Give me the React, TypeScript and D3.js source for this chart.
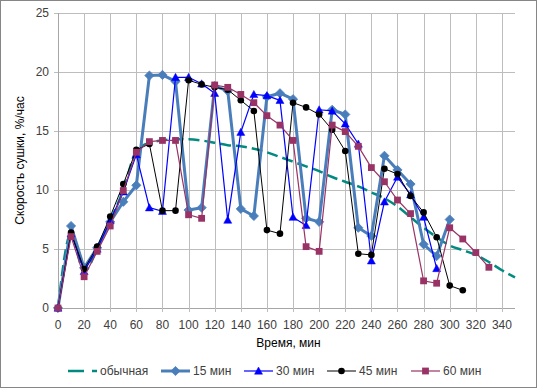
import React from "react";
import * as d3 from "d3";

const W = 537;
const H = 388;

const xTicks = [0, 20, 40, 60, 80, 100, 120, 140, 160, 180, 200, 220, 240, 260, 280, 300, 320, 340];
const yTicks = [0, 5, 10, 15, 20, 25];

const normalX = [0, 10, 20, 30, 40, 50, 60, 70, 80, 90, 100, 110, 120, 130, 140, 150, 160, 170, 180, 190, 200, 210, 220, 230, 240, 250, 260, 270, 280, 290, 300, 310, 320, 330, 340, 350];
const normalY = [0, 6.3, 3.1, 5.0, 7.4, 10.0, 13.3, 14.0, 14.2, 14.3, 14.3, 14.2, 14.0, 13.8, 13.7, 13.5, 13.2, 12.8, 12.4, 12.0, 11.6, 11.1, 10.7, 10.3, 9.8, 9.3, 8.6, 7.7, 6.8, 6.0, 5.3, 4.9, 4.5, 3.9, 3.2, 2.6];

const m15X = [0, 10, 20, 30, 40, 50, 60, 70, 80, 90, 100, 110, 120, 130, 140, 150, 160, 170, 180, 190, 200, 210, 220, 230, 240, 250, 260, 270, 280, 290, 300];
const m15Y = [0, 6.95, 3.4, 5.1, 7.3, 9.0, 10.4, 19.7, 19.75, 19.2, 8.3, 8.5, 18.8, 18.4, 8.4, 7.8, 17.9, 18.2, 17.7, 7.6, 7.3, 16.8, 16.4, 6.8, 6.1, 12.9, 11.7, 10.5, 5.4, 4.4, 7.5];

const m30X = [0, 10, 20, 30, 40, 50, 60, 70, 80, 90, 100, 110, 120, 130, 140, 150, 160, 170, 180, 190, 200, 210, 220, 230, 240, 250, 260, 270, 280, 290];
const m30Y = [0, 6.3, 3.1, 5.0, 7.4, 9.85, 13.0, 8.5, 8.2, 19.55, 19.55, 19.0, 18.2, 7.45, 14.9, 18.1, 18.0, 17.6, 7.7, 7.0, 16.8, 16.7, 15.6, 13.9, 4.0, 9.0, 11.1, 9.6, 7.7, 3.35];

const m45X = [0, 10, 20, 30, 40, 50, 60, 70, 80, 90, 100, 110, 120, 130, 140, 150, 160, 170, 180, 190, 200, 210, 220, 230, 240, 250, 260, 270, 280, 290, 300, 310];
const m45Y = [0, 6.4, 3.3, 5.2, 7.75, 10.5, 13.4, 13.9, 8.25, 8.25, 19.3, 18.95, 18.7, 18.5, 17.6, 16.7, 6.6, 6.3, 17.4, 17.0, 16.4, 15.1, 13.3, 4.6, 4.5, 11.8, 11.35, 9.5, 8.1, 6.0, 1.9, 1.5];

const m60X = [0, 10, 20, 30, 40, 50, 60, 70, 80, 90, 100, 110, 120, 130, 140, 150, 160, 170, 180, 190, 200, 210, 220, 230, 240, 250, 260, 270, 280, 290, 300, 310, 320, 330];
const m60Y = [0, 6.05, 2.65, 4.8, 6.95, 9.95, 13.2, 14.1, 14.2, 14.2, 7.9, 7.6, 18.9, 18.7, 18.1, 17.4, 16.3, 15.5, 14.2, 5.2, 4.8, 15.5, 14.95, 13.7, 11.9, 10.7, 9.15, 8.0, 2.3, 2.1, 6.8, 5.85, 4.7, 3.45];

const seriesNames = ["обычная", "15 мин", "30 мин", "45 мин", "60 мин"];

const FONT = "'Liberation Sans', Arial, sans-serif";

type Pt = [number, number];
const zip = (xs: number[], ys: number[]): Pt[] => xs.map((x, i) => [x, ys[i]]);

function Marker({ kind, x, y, color }: { kind: string; x: number; y: number; color: string }) {
  if (kind === "diamond") {
    const s = 4.6;
    return <path d={`M${x},${y - s}L${x + s},${y}L${x},${y + s}L${x - s},${y}Z`} fill={color} stroke={color} strokeWidth={0.8} />;
  }
  if (kind === "triangle") {
    const s = 4;
    return <path d={`M${x},${y - s}L${x + s},${y + s * 0.8}L${x - s},${y + s * 0.8}Z`} fill={color} stroke={color} strokeWidth={0.5} />;
  }
  if (kind === "circle") {
    return <circle cx={x} cy={y} r={3.3} fill={color} />;
  }
  if (kind === "square") {
    const s = 3.4;
    return <rect x={x - s} y={y - s} width={2 * s} height={2 * s} fill={color} />;
  }
  return null;
}

export default function App() {
  const left = 58, right = 515, top = 13, bottom = 308;
  const x = d3.scaleLinear().domain([0, 350]).range([left, right]);
  const y = d3.scaleLinear().domain([0, 25]).range([bottom, top]);

  const line = d3.line<Pt>().x((d) => x(d[0])).y((d) => y(d[1]));
  const smooth = d3.line<Pt>().x((d) => x(d[0])).y((d) => y(d[1])).curve(d3.curveMonotoneX);

  const series = [
    { name: seriesNames[1], data: zip(m15X, m15Y), color: "#4a7ebb", width: 3, marker: "diamond" },
    { name: seriesNames[2], data: zip(m30X, m30Y), color: "#0000ff", width: 1.2, marker: "triangle" },
    { name: seriesNames[3], data: zip(m45X, m45Y), color: "#000000", width: 1, marker: "circle" },
    { name: seriesNames[4], data: zip(m60X, m60Y), color: "#993366", width: 1.2, marker: "square" },
  ];
  const normal = zip(normalX, normalY);
  const teal = "#008a80";

  const legendItems = [
    { name: seriesNames[0], x0: 68, color: teal, kind: "dash", width: 2.5 },
    { name: seriesNames[1], x0: 161, color: "#4a7ebb", kind: "diamond", width: 3 },
    { name: seriesNames[2], x0: 244, color: "#0000ff", kind: "triangle", width: 1.2 },
    { name: seriesNames[3], x0: 327, color: "#000000", kind: "circle", width: 1 },
    { name: seriesNames[4], x0: 411, color: "#993366", kind: "square", width: 1.2 },
  ];
  const ly = 371;

  return (
    <svg width={W} height={H} style={{ position: "absolute", left: 0, top: 0, background: "#fff" }} fontFamily={FONT}>
      <rect x={0.5} y={0.5} width={W - 1} height={H - 1} fill="#fff" stroke="#868686" />
      {/* gridlines */}
      {yTicks.map((t) => (
        <g key={"y" + t}>
          <line x1={left - 4} x2={right} y1={Math.round(y(t)) + 0.5} y2={Math.round(y(t)) + 0.5} stroke={t === 0 ? "#a6a6a6" : "#bdbdbd"} />
          <text x={left - 9} y={y(t) + 4} textAnchor="end" fontSize={12} fill="#404040">{t}</text>
        </g>
      ))}
      {xTicks.map((t) => (
        <g key={"x" + t}>
          <line x1={Math.round(x(t)) + 0.5} x2={Math.round(x(t)) + 0.5} y1={top} y2={bottom + 4} stroke="#bdbdbd" />
          <text x={x(t)} y={bottom + 21} textAnchor="middle" fontSize={12} fill="#404040">{t}</text>
        </g>
      ))}
      <line x1={left + 0.5} x2={left + 0.5} y1={top} y2={bottom} stroke="#a6a6a6" />

      {/* series */}
      <path d={smooth(normal) || ""} fill="none" stroke={teal} strokeWidth={2.5} strokeDasharray="11,5" />
      {series.map((s) => (
        <g key={s.name}>
          <path d={line(s.data) || ""} fill="none" stroke={s.color} strokeWidth={s.width} strokeLinejoin="round" />
          {s.data.map((d, i) => (
            <Marker key={i} kind={s.marker} x={x(d[0])} y={y(d[1])} color={s.color} />
          ))}
        </g>
      ))}

      {/* axis titles */}
      <text x={(left + right) / 2 + 2} y={347} textAnchor="middle" fontSize={12} fill="#000">Время, мин</text>
      <text transform={`translate(24, ${(top + bottom) / 2}) rotate(-90)`} textAnchor="middle" fontSize={12} fill="#000">Скорость сушки, %/час</text>

      {/* legend */}
      {legendItems.map((it) => (
        <g key={it.name}>
          {it.kind === "dash" ? (
            <>
              <line x1={it.x0} x2={it.x0 + 16} y1={ly} y2={ly} stroke={it.color} strokeWidth={it.width} />
              <line x1={it.x0 + 24} x2={it.x0 + 29} y1={ly} y2={ly} stroke={it.color} strokeWidth={it.width} />
            </>
          ) : (
            <>
              <line x1={it.x0} x2={it.x0 + 29} y1={ly} y2={ly} stroke={it.color} strokeWidth={it.width} />
              <Marker kind={it.kind} x={it.x0 + 14.5} y={ly} color={it.color} />
            </>
          )}
          <text x={it.x0 + 32} y={ly + 4} fontSize={12} fill="#404040">{it.name}</text>
        </g>
      ))}
    </svg>
  );
}
